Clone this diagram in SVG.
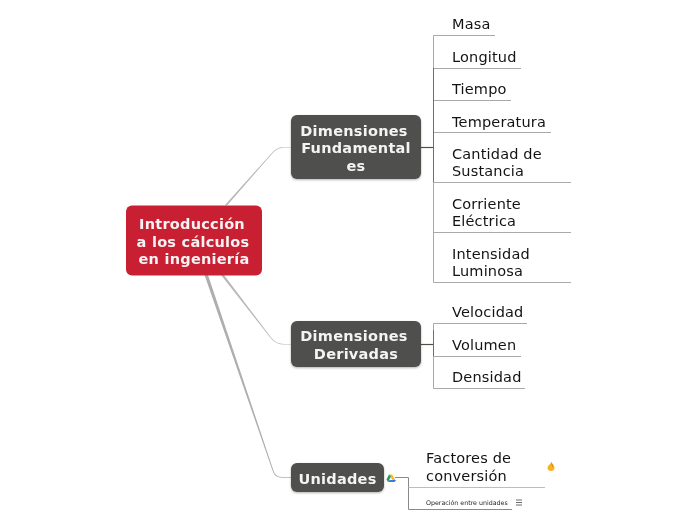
<svg xmlns="http://www.w3.org/2000/svg" width="696" height="520" viewBox="0 0 696 520">
<style>
text{font-family:"DejaVu Sans",Verdana,sans-serif;text-anchor:start;opacity:.99}
.main{font-size:14.500px;font-weight:700;fill:#f6f6f6;text-anchor:middle;letter-spacing:.25px}
.sub{font-size:14.500px;fill:#111;letter-spacing:.17px}
.ln{fill:none;stroke:#a9a9a9;stroke-width:1}
.md{fill:none;stroke:#6e6e6e;stroke-width:1}
.dk{fill:none;stroke:#4f4f4d;stroke-width:1.2}
.box{fill:#4f4f4d}
.tp{fill:#b8b8b8}
</style>
<defs><filter id="sh" x="-5%" y="-5%" width="110%" height="115%"><feDropShadow dx="0" dy="1" stdDeviation="1" flood-color="#000" flood-opacity=".3"/></filter></defs>
<rect width="696" height="520" fill="#fff"/>
<g id="connectors">
<path class="tp" d="M225 205L272.300 152.500Q277 147 284 147H291V147.600H284Q278 147.800 272.800 153L227.500 205Z"/>
<path class="tp" d="M221 275L271 338.500Q276 344.500 284 344.500H291V344H284Q276.500 343.800 271.500 338L224 275Z"/>
<path d="M204.500 275L272.500 470.500Q274.500 477.800 282 477.800H291V477H282Q275 477 273.300 470L208 275Z" fill="#aeaeae"/>
<path class="dk" d="M421 147.500H433.500"/>
<path class="dk" d="M421 344.500H433.500"/>
<path class="ln" d="M433.500 68V35.500H495M433.500 68.500H521M433.500 100.500H511M433.500 132.500H551M433.500 182V282.500H571M433.500 182.500H571M433.500 232.500H571"/>
<path class="md" d="M433.500 68V182"/>
<path class="ln" d="M433.500 344V323.500H527M433.500 344V388.500H525M433.500 356.500H521"/>
<path class="md" d="M433.500 330V356"/>
<path d="M395 477.500H408.500V509.500H512" fill="none" stroke="#8a8a8a" stroke-width="1"/>
<path d="M408.500 487.500H545" fill="none" stroke="#bdbdbd" stroke-width="1.2"/>
</g>
<g id="root"><rect x="126" y="205.500" width="136" height="70" rx="6" fill="#c81f33"/>
<text class="main" x="192" y="229">Introducción</text><text class="main" x="193" y="246.500">a los cálculos</text><text class="main" x="194" y="264">en ingeniería</text></g>
<g id="n-fund"><rect class="box" x="291" y="115" width="130" height="64" rx="6" filter="url(#sh)"/>
<text class="main" x="354" y="136">Dimensiones</text><text class="main" x="356" y="153">Fundamental</text><text class="main" x="356" y="171">es</text></g>
<g id="n-der"><rect class="box" x="291" y="321" width="130" height="46" rx="6" filter="url(#sh)"/>
<text class="main" x="354" y="341">Dimensiones</text><text class="main" x="356" y="359">Derivadas</text></g>
<g id="n-uni"><rect class="box" x="291" y="463" width="93" height="29" rx="6" filter="url(#sh)"/>
<text class="main" x="337.500" y="484">Unidades</text></g>
<g id="masa"><text class="sub" x="452" y="29">Masa</text></g>
<g id="longitud"><text class="sub" x="452" y="62">Longitud</text></g>
<g id="tiempo"><text class="sub" x="452" y="94">Tiempo</text></g>
<g id="temperatura"><text class="sub" x="452" y="127">Temperatura</text></g>
<g id="cantidad"><text class="sub" x="452" y="159">Cantidad de</text><text class="sub" x="452" y="176">Sustancia</text></g>
<g id="corriente"><text class="sub" x="452" y="209">Corriente</text><text class="sub" x="452" y="226">Eléctrica</text></g>
<g id="intensidad"><text class="sub" x="452" y="259">Intensidad</text><text class="sub" x="452" y="276">Luminosa</text></g>
<g id="velocidad"><text class="sub" x="452" y="317">Velocidad</text></g>
<g id="volumen"><text class="sub" x="452" y="350">Volumen</text></g>
<g id="densidad"><text class="sub" x="452" y="382">Densidad</text></g>
<g id="factores"><text class="sub" x="426" y="463">Factores de</text><text class="sub" x="426" y="481">conversión</text>
<path d="M551 462C553 464 554.500 466 554.500 468C554.500 470 553 471 551 471C549 471 547.500 470 547.500 468C547.500 466 549 465.500 549.500 464C550 465 550.500 464 551 462Z" fill="#f5b521"/><path d="M551 462C552.500 464 553.500 466 553 468C552 466.500 551 465 551 462Z" fill="#e8851f"/></g>
<g id="operacion"><text x="426" y="505" font-size="6.300" fill="#222">Operación entre unidades</text>
<path d="M516 500H522M516 502.500H522M516 505H522" stroke="#444" stroke-width=".8" fill="none"/></g>
<g id="drive"><path d="M389 474.500H392L396 481H393Z" fill="#f6bb2a"/><path d="M389 474.500L386.500 479.500L388 482L391 476.500Z" fill="#2a9b4d"/><path d="M388 482H394.500L396 480H389.500Z" fill="#3b78e7"/></g>
</svg>
